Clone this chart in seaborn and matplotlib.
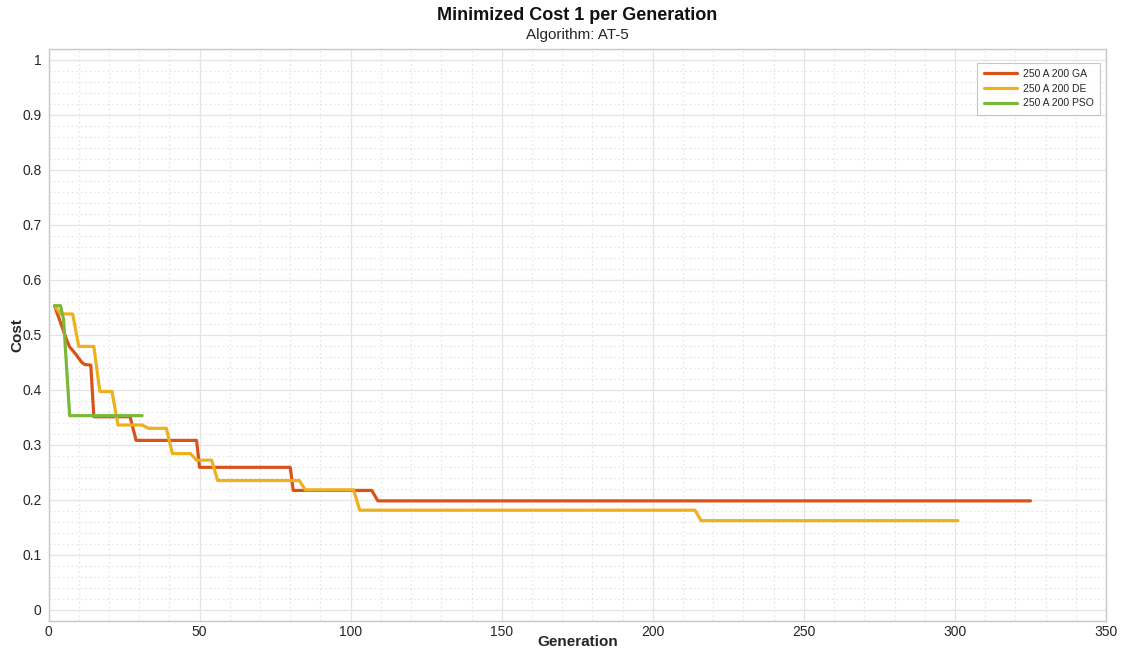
import numpy as np
import pandas as pd
import matplotlib
matplotlib.use("Agg")
import matplotlib.pyplot as plt
from matplotlib.ticker import MultipleLocator
import seaborn as sns

# ---- data (breakpoints) ----
ga_gen = [2, 4, 6, 7, 9, 11, 12, 14, 15, 27, 29, 49, 50, 80, 81, 107, 109, 325]
ga_cost = [0.553, 0.522, 0.491, 0.478, 0.465, 0.450, 0.446, 0.445, 0.351, 0.351, 0.308,
           0.308, 0.259, 0.259, 0.217, 0.217, 0.198, 0.198]

de_gen = [2, 4, 8, 10, 15, 17, 21, 23, 31, 33, 39, 41, 47, 49, 54, 56, 83, 85, 101, 103,
          214, 216, 301]
de_cost = [0.553, 0.538, 0.538, 0.479, 0.479, 0.397, 0.397, 0.336, 0.336, 0.330, 0.330,
           0.284, 0.284, 0.272, 0.272, 0.235, 0.235, 0.218, 0.218, 0.181, 0.181, 0.162, 0.162]

pso_gen = [2, 4, 5, 7, 31]
pso_cost = [0.553, 0.553, 0.527, 0.353, 0.353]

series_names = ["250 A 200 GA", "250 A 200 DE", "250 A 200 PSO"]
colors = ["#D95319", "#EDB120", "#7AB83A"]

title = "Minimized Cost 1 per Generation"
subtitle = "Algorithm: AT-5"
x_label = "Generation"
y_label = "Cost"
x_ticks = [0, 50, 100, 150, 200, 250, 300, 350]
y_ticks = [0, 0.1, 0.2, 0.3, 0.4, 0.5, 0.6, 0.7, 0.8, 0.9, 1]
y_tick_labels = ["0", "0.1", "0.2", "0.3", "0.4", "0.5", "0.6", "0.7", "0.8", "0.9", "1"]

frames = []
for name, g, c in zip(series_names, [ga_gen, de_gen, pso_gen], [ga_cost, de_cost, pso_cost]):
    frames.append(pd.DataFrame({"Generation": g, "Cost": c, "Series": name}))
df = pd.concat(frames, ignore_index=True)

sns.set_theme(style="white")
plt.rcParams["font.family"] = ["Liberation Sans", "DejaVu Sans"]

fig = plt.figure(figsize=(11.25, 6.55), dpi=100)
ax = fig.add_axes([48.5 / 1125, 1 - 620.7 / 655, (1106 - 48.5) / 1125, (620.7 - 49) / 655])

sns.lineplot(data=df, x="Generation", y="Cost", hue="Series", hue_order=series_names,
             palette=colors, linewidth=2.3, estimator=None, sort=False, ax=ax)

ax.set_xlim(0, 350)
ax.set_ylim(-0.02, 1.02)
ax.set_xticks(x_ticks)
ax.set_xticklabels([str(t) for t in x_ticks])
ax.set_yticks(y_ticks)
ax.set_yticklabels(y_tick_labels)
ax.xaxis.set_minor_locator(MultipleLocator(10))
ax.yaxis.set_minor_locator(MultipleLocator(0.02))

ax.grid(which="major", color="#e4e4e4", linestyle="-", linewidth=0.9)
ax.grid(which="minor", color="#e4e4e4", linestyle=(0, (1.5, 2.5)), linewidth=0.8)
ax.set_axisbelow(True)

for s in ax.spines.values():
    s.set_visible(True)
    s.set_color("#c8c8c8")
    s.set_linewidth(1.0)

ax.tick_params(axis="both", which="major", direction="in", length=5, width=0.8,
               color="#b0b0b0", labelsize=10, labelcolor="#262626")
ax.tick_params(axis="x", which="major", pad=3)
ax.tick_params(axis="y", which="major", pad=5)
ax.tick_params(axis="both", which="minor", length=0)

ax.set_xlabel(x_label, fontsize=11, fontweight="bold", color="#262626", va="center")
ax.set_ylabel(y_label, fontsize=11, fontweight="bold", color="#262626", va="center")
ax.xaxis.set_label_coords(0.5, (620.7 - 642) / 571.7)
ax.yaxis.set_label_coords((17 - 48.5) / 1057.5, 0.5)

fig.text(577 / 1125, 1 - 15 / 655, title, ha="center", va="center", fontsize=13,
         fontweight="bold", color="#111111")
fig.text(577 / 1125, 1 - 35 / 655, subtitle, ha="center", va="center", fontsize=11,
         color="#262626")

leg = ax.legend(loc="upper right", bbox_to_anchor=(0.9995, 0.985), fontsize=7.5,
                frameon=True, fancybox=False, handlelength=3.2, handletextpad=0.6,
                borderpad=0.6, labelspacing=0.45)
leg.get_frame().set_edgecolor("#b8b8b8")
leg.get_frame().set_linewidth(0.8)
for line in leg.get_lines():
    line.set_linewidth(2.3)

fig.savefig("out.png", dpi=100)
